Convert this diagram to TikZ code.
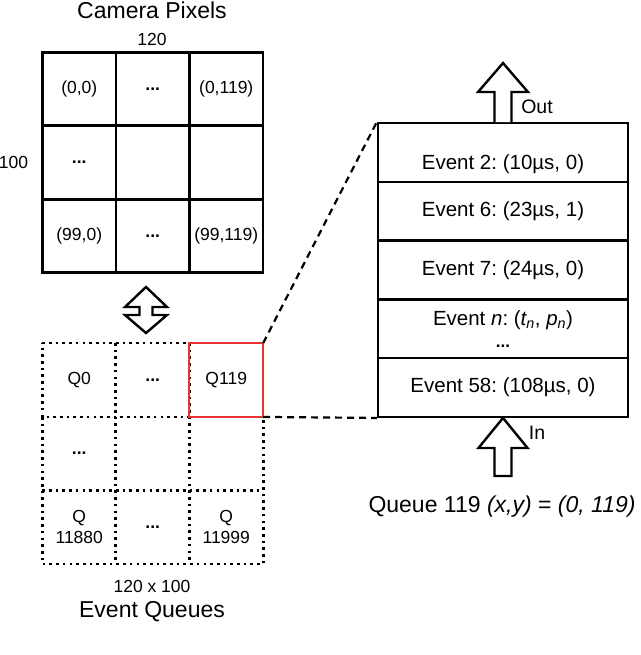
\documentclass[tikz,border=0pt]{standalone}
\usepackage{fontspec}
\setmainfont{Liberation Sans}
\definecolor{boxred}{RGB}{235,50,50}
\frenchspacing
\begin{document}
\begin{tikzpicture}[x=1pt,y=-1pt,
  cell/.style={minimum width=73.5pt,minimum height=73.5pt,inner sep=0pt,font=\fontsize{17.5}{20.5}\selectfont,align=center},
  pixcell/.style={cell,draw,line width=2.6pt},
  redbox/.style={draw=boxred,line width=2pt},
  dotline/.style={line width=2.8pt,dash pattern=on 2.6pt off 4.1pt},
  dashline/.style={line width=2.2pt,dash pattern=on 7pt off 5pt},
  evrow/.style={draw,line width=2.4pt,minimum width=250pt,minimum height=58.7pt,inner sep=0pt,font=\fontsize{20.5}{25}\selectfont,align=center},
  big/.style={font=\fontsize{23}{27}\selectfont},
  small/.style={font=\fontsize{17.5}{20.5}\selectfont},
  bigarrow/.style={draw,line width=2.4pt,fill=white,line join=miter}]
\useasboundingbox (0,0) rectangle (640,655);
\newcommand{\dd}{\textbf{...}}
% Camera pixels
\node[big] (camtitle) at (152,10) {Camera Pixels};
\node[small] (w120) at (152,39) {120};
\node[small] (h100) at (13.5,162) {100};
\node[pixcell] (p11) at (79.25,89) {(0,0)};
\node[pixcell] (p12) at (152.75,89) {\dd};
\node[pixcell] (p13) at (226.25,89) {(0,119)};
\node[pixcell] (p21) at (79.25,162.5) {\dd};
\node[pixcell] (p22) at (152.75,162.5) {};
\node[pixcell] (p23) at (226.25,162.5) {};
\node[pixcell] (p31) at (79.25,236) {(99,0)};
\node[pixcell] (p32) at (152.75,236) {\dd};
\node[pixcell] (p33) at (226.25,236) {(99,119)};
% double arrow
\draw[bigarrow] (146,287) -- (167,307) -- (152.5,307) -- (152.5,315) -- (167,315) -- (146,333)
  -- (125,315) -- (139.5,315) -- (139.5,307) -- (125,307) -- cycle;
% Event queues
\node[cell] (q11) at (79.25,380) {Q0};
\node[cell] (q12) at (152.75,380) {\dd};
\node[cell] (q13) at (226.25,380) {Q119};
\node[cell] (q21) at (79.25,453.5) {\dd};
\node[cell] (q22) at (152.75,453.5) {};
\node[cell] (q23) at (226.25,453.5) {};
\node[cell] (q31) at (79.25,527) {Q\\11880};
\node[cell] (q32) at (152.75,527) {\dd};
\node[cell] (q33) at (226.25,527) {Q\\11999};
\draw[dotline] (q11.north west) -- (q12.north east) -- (q12.south east) -- (q11.south west) -- cycle;
\draw[dotline] (q12.north west) -- (q32.south west);
\draw[dotline] (q21.south west) -- (q23.south east);
\draw[dotline] (q11.south west) -- (q31.south west) -- (q33.south east) -- (q13.south east);
\draw[dotline] (q23.north west) -- (q33.south west);
\draw[redbox] (q13.north west) rectangle (q13.south east);
\node[small] (dims) at (152,586) {120 x 100};
\node[big] (eqtitle) at (152,612) {Event Queues};
% Queue stack
\node[evrow] (e1) at (503,152.6) {\raisebox{-17pt}[0pt][0pt]{Event 2: (10µs, 0)}};
\node[evrow] (e2) at (503,211.3) {Event 6: (23µs, 1)};
\node[evrow] (e3) at (503,270) {Event 7: (24µs, 0)};
\node[evrow] (e4) at (503,328.7) {Event \textit{n}: (\textit{t\textsubscript{n}}, \textit{p\textsubscript{n}})\\[-3pt]{\fontsize{17}{20}\selectfont\dd}};
\node[evrow] (e5) at (503,387.4) {Event 58: (108µs, 0)};
% Out / In arrows
\coordinate (outbase) at (e1.north);
\draw[bigarrow] (outbase) ++(-8.5,0) -- ++(0,-30) -- ++(-16.5,0) -- ++(25,-29) -- ++(25,29) -- ++(-16.5,0) -- ++(0,30);
\node[font=\fontsize{19.5}{23}\selectfont] (outlbl) at (537,107) {Out};
\coordinate (inbase) at (e5.south);
\draw[bigarrow] (inbase) -- ++(24.5,30) -- ++(-16,0) -- ++(0,28) -- ++(-17,0) -- ++(0,-28) -- ++(-16,0) -- cycle;
\node[font=\fontsize{19.5}{23}\selectfont] (inlbl) at (537,433) {In};
\node[big] (qcap) at (502,507) {Queue 119 \textit{(x,y)} = \textit{(0, 119)}};
% zoom dashes
\draw[dashline] (q13.north east) -- (e1.north west);
\draw[dashline] (q13.south east) -- (e5.south west);
\end{tikzpicture}
\end{document}
